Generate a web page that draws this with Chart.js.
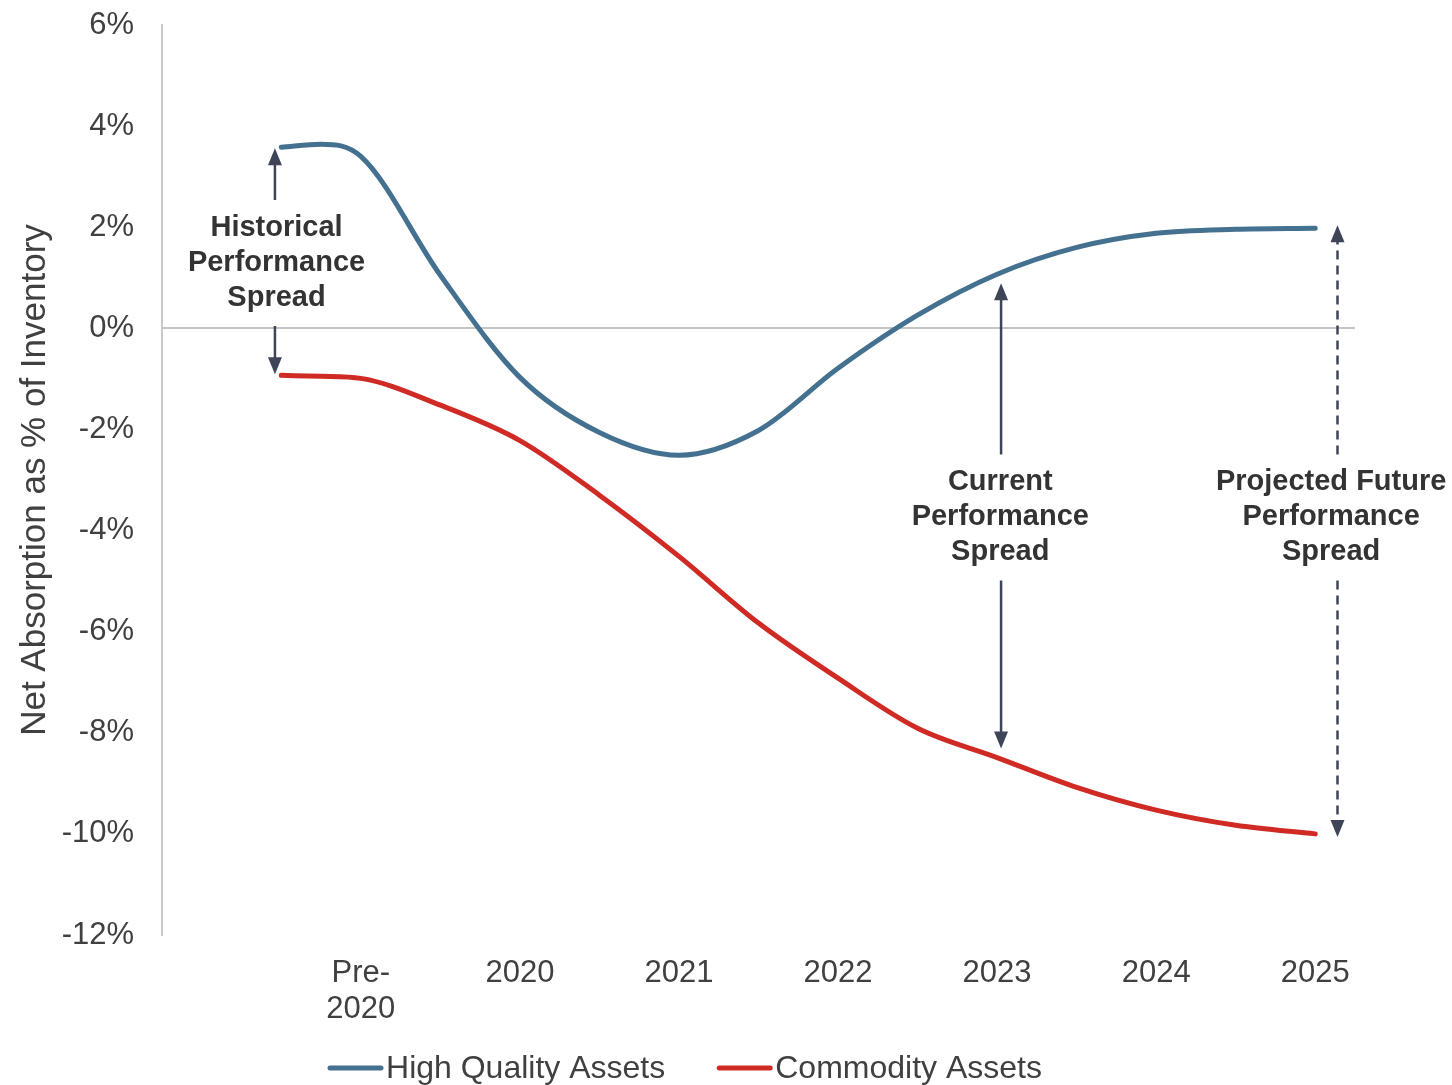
<!DOCTYPE html>
<html>
<head>
<meta charset="utf-8">
<title>Net Absorption</title>
<script src="https://cdn.jsdelivr.net/npm/chart.js@4.4.1/dist/chart.umd.min.js"></script>
<style>
  html, body { margin: 0; padding: 0; background: #fff; }
</style>
</head>
<body>
<canvas id="absorption_chart" width="1452" height="1085"></canvas>
<script>
// x is in category units: 0 = Pre-2020, 1 = 2020 ... 6 = 2025
const categories = [["Pre-", "2020"], "2020", "2021", "2022", "2023", "2024", "2025"]
const xPositions = [-0.5, -0.25, 0, 0.5, 1, 1.5, 2, 2.5, 3, 3.5, 4, 4.5, 5, 5.5, 6]
const highQuality = [3.58, 3.64, 3.40, 1.05, -0.97, -2.06, -2.51, -2.02, -0.79, 0.26, 1.07, 1.60, 1.88, 1.96, 1.98]
const commodity = [-0.93, -0.95, -0.99, -1.52, -2.22, -3.30, -4.51, -5.83, -6.92, -7.91, -8.49, -9.08, -9.53, -9.83, -10.0]
const seriesNames = ["High Quality Assets", "Commodity Assets"]

// spread callouts, each one hangs off a point index of the two series
const spreadNotes = [
  { index: 0, shift: -0.04, inset: 1, textShift: -0.03, textAt: 1.29, lines: ["Historical", "Performance", "Spread"], dashed: false },
  { index: 10, shift: 0.025, inset: 9, textShift: 0.02, textAt: -3.74, lines: ["Current", "Performance", "Spread"], dashed: false },
  { index: 14, shift: 0.14, inset: -3, textShift: 0.1, textAt: -3.74, lines: ["Projected Future", "Performance", "Spread"], dashed: true }
]

const BLUE = "#44718f"
const RED = "#d02a25"
const ARROW = "#3f4558"
const TEXT = "#404040"
const FONT = '"Liberation Sans", Arial, sans-serif'

function toPoints(values){
  return values.map((v, i) => ({ x: xPositions[i], y: v }))
}

function drawHead(ctx, x, tipY, dir){
  // dir = -1 points up, 1 points down
  ctx.beginPath()
  ctx.moveTo(x, tipY)
  ctx.lineTo(x - 7, tipY - dir * 17)
  ctx.lineTo(x + 7, tipY - dir * 17)
  ctx.closePath()
  ctx.fill()
}

const spreadArrows = {
  id: "spreadArrows",
  afterDatasetsDraw(chart){
    const ctx = chart.ctx
    const xs = chart.scales.x
    const ys = chart.scales.y
    const gap = 35

    spreadNotes.forEach(note => {
      const x = xs.getPixelForValue(xPositions[note.index] + note.shift)
      const top = ys.getPixelForValue(highQuality[note.index]) + note.inset
      const bottom = ys.getPixelForValue(commodity[note.index]) - note.inset
      const midY = ys.getPixelForValue(note.textAt)
      const textX = xs.getPixelForValue(xPositions[note.index] + note.textShift)

      ctx.save()
      ctx.strokeStyle = ARROW
      ctx.fillStyle = ARROW
      ctx.lineWidth = 2.5
      if (note.dashed) ctx.setLineDash([9, 6])

      ctx.beginPath()
      ctx.moveTo(x, midY - gap - 28)
      ctx.lineTo(x, top + 12)
      ctx.moveTo(x, midY + gap + 28)
      ctx.lineTo(x, bottom - 12)
      ctx.stroke()
      ctx.setLineDash([])
      drawHead(ctx, x, top, -1)
      drawHead(ctx, x, bottom, 1)

      ctx.fillStyle = "#333333"
      ctx.font = "bold 29px " + FONT
      ctx.textAlign = "center"
      ctx.textBaseline = "middle"
      note.lines.forEach((line, i) => {
        ctx.fillText(line, textX, midY + (i - 1) * gap)
      })
      ctx.restore()
    })
  }
}

const bottomLegend = {
  id: "bottomLegend",
  afterDraw(chart){
    const ctx = chart.ctx
    const y = 1068
    const sample = 55
    const spacing = 52
    ctx.save()
    ctx.font = "32px " + FONT
    const widths = chart.data.datasets.map(d => ctx.measureText(d.label).width)
    let total = widths.reduce((a, b) => a + b, 0) + chart.data.datasets.length * (sample + 3) + spacing
    let x = 685 - total / 2
    chart.data.datasets.forEach((d, i) => {
      ctx.strokeStyle = d.borderColor
      ctx.lineWidth = 5
      ctx.lineCap = "round"
      ctx.beginPath()
      ctx.moveTo(x + 2, y)
      ctx.lineTo(x + sample - 2, y)
      ctx.stroke()
      ctx.fillStyle = TEXT
      ctx.textAlign = "left"
      ctx.textBaseline = "middle"
      ctx.fillText(d.label, x + sample + 3, y + 1)
      x += sample + 3 + widths[i] + spacing
    })
    ctx.restore()
  }
}

const node = document.getElementById("absorption_chart").getContext("2d")

new Chart(node, {
  type: "line",
  data: {
    datasets: [
      { label: seriesNames[0], data: toPoints(highQuality), borderColor: BLUE },
      { label: seriesNames[1], data: toPoints(commodity), borderColor: RED }
    ]
  },
  options: {
    responsive: false,
    animation: false,
    devicePixelRatio: 1,
    layout: { padding: { top: 25, right: 97, bottom: 0, left: 0 } },
    elements: {
      line: { borderWidth: 5, cubicInterpolationMode: "monotone", borderCapStyle: "round", fill: false },
      point: { radius: 0, hoverRadius: 0 }
    },
    plugins: {
      legend: { display: false },
      tooltip: { enabled: false }
    },
    scales: {
      x: {
        type: "linear",
        min: -1.25,
        max: 6.25,
        afterBuildTicks: scale => { scale.ticks = categories.map((c, i) => ({ value: i })) },
        afterFit: scale => { scale.height = 150 },
        grid: { display: false, drawTicks: false },
        border: { display: false },
        ticks: {
          autoSkip: false,
          maxRotation: 0,
          padding: 21,
          color: TEXT,
          font: { family: FONT, size: 31, lineHeight: 1.15 },
          callback: value => categories[value]
        }
      },
      y: {
        min: -12,
        max: 6,
        afterFit: scale => {
          scale.width = 162
          scale.paddingTop = 0
          scale.paddingBottom = 0
        },
        grid: {
          drawTicks: false,
          lineWidth: 2,
          color: c => c.tick && c.tick.value === 0 ? "#c4c4c4" : "rgba(0,0,0,0)"
        },
        border: { color: "#c9c9c9", width: 2 },
        ticks: {
          stepSize: 2,
          padding: 28,
          color: TEXT,
          font: { family: FONT, size: 31 },
          callback: value => value + "%"
        },
        title: {
          display: true,
          text: "Net Absorption as % of Inventory",
          color: TEXT,
          font: { family: FONT, size: 35 },
          padding: { top: 14, bottom: 0 }
        }
      }
    }
  },
  plugins: [spreadArrows, bottomLegend]
})
</script>
</body>
</html>
